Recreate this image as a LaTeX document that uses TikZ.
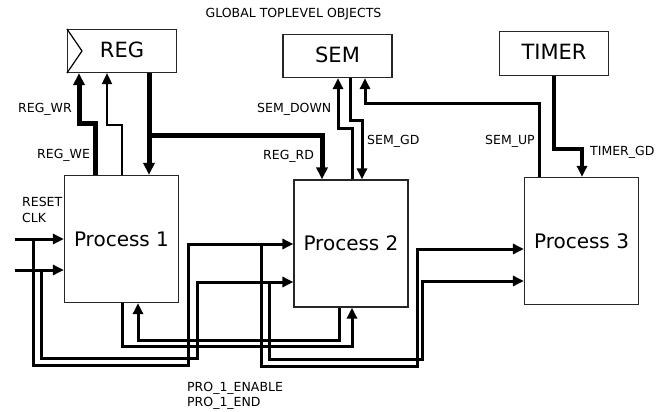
\documentclass[tikz,border=0pt]{standalone}
\usepackage{fontspec}
\setmainfont{DejaVu Sans}
\usetikzlibrary{arrows.meta}
\begin{document}
\begin{tikzpicture}[x=1pt,y=-1pt,
  box/.style={draw=black!85, line width=1.2pt, inner sep=0pt},
  topbox/.style={box, minimum width=109pt, minimum height=43pt, text depth=3pt, font=\fontsize{21}{25}\selectfont},
  procbox/.style={box, minimum width=114pt, minimum height=127pt, font=\fontsize{20}{24}\selectfont},
  lbl/.style={inner sep=0pt, font=\fontsize{12.5}{15}\selectfont, anchor=base west},
  wire/.style={line width=3pt, -{Triangle[length=11pt,width=10pt]}},
  thinwire/.style={line width=1.8pt, -{Triangle[length=11pt,width=10pt]}},
  thickwire/.style={line width=5pt, -{Triangle[length=12pt,width=11pt]}}
]
\useasboundingbox (0,0) rectangle (669,412);

% boxes
\node[topbox] (reg) at (122,51) {REG};
\node[topbox] (sem) at (337.5,56) {SEM};
\node[topbox, minimum height=44pt] (timer) at (554,53.5) {TIMER};
\node[procbox] (p1) at (121.5,239) {Process 1};
\node[procbox] (p2) at (351,243.5) {Process 2};
\node[procbox] (p3) at (581.5,241) {Process 3};
\draw[line width=1.2pt] (reg.north west) -- (82,0 |- reg.west) -- (reg.south west);

% labels
\node[lbl, anchor=base] (title) at (293.5,17.3) {GLOBAL TOPLEVEL OBJECTS};
\node[lbl] (lwr) at (18,112.7) {REG\_WR};
\node[lbl] (lwe) at (37,158) {REG\_WE};
\node[lbl] (lsd) at (257,112) {SEM\_DOWN};
\node[lbl] (lrd) at (263,159) {REG\_RD};
\node[lbl] (lsg) at (367,144) {SEM\_GD};
\node[lbl] (lsu) at (485,144) {SEM\_UP};
\node[lbl] (ltg) at (590,155) {TIMER\_GD};
\node[lbl] (lrs) at (22,206) {RESET};
\node[lbl] (lck) at (22,222.7) {CLK};
\node[lbl] (lpe) at (187,391.7) {PRO\_1\_ENABLE};
\node[lbl] (lpd) at (187,406.7) {PRO\_1\_END};

% register wires
\coordinate (rdj) at (149,135);
\draw[thickwire] (149,0 |- reg.south) -- (149,0 |- p1.north);
\draw[thickwire] (rdj) -| (322,0 |- p2.north);
\draw[thickwire] (95,0 |- p1.north) |- (79,123) -- (79,0 |- reg.south);
\draw[thinwire] (122,0 |- p1.north) |- (107,125) -- (107,0 |- reg.south);

% semaphore / timer wires
\draw[wire] (352,0 |- p2.north) |- (338,128) -- (338,0 |- sem.south);
\draw[wire] (350,0 |- sem.south) |- (362,120) -- (362,0 |- p2.north);
\draw[wire] (539,0 |- p3.north) |- (365,103) -- (365,0 |- sem.south);
\draw[wire, line width=3.5pt] (554,0 |- timer.south) |- (582,149) -- (582,0 |- p3.north);

% inputs
\coordinate (in1) at (15,239);
\coordinate (in2) at (15,270);
\draw[wire] (in1) -- (in1 -| p1.west);
\draw[wire] (in2) -- (in2 -| p1.west);
\coordinate (j1) at (33,239);
\coordinate (j2) at (41,270);
\draw[wire] (j1) |- (188,365) |- (p2.west |- 0,244);
\draw[wire] (j2) |- (197,358) |- (p2.west |- 0,282);
\coordinate (j3) at (261,244);
\coordinate (j4) at (269,282);
\draw[wire] (j3) |- (417,366) |- (p3.west |- 0,249);
\draw[wire] (j4) |- (422,359) |- (p3.west |- 0,281);

% process 1 <-> process 2
\draw[wire] (122,0 |- p1.south) |- (352,346) -- (352,0 |- p2.south);
\draw[wire] (339,0 |- p2.south) |- (138,340) -- (138,0 |- p1.south);
\end{tikzpicture}
\end{document}
